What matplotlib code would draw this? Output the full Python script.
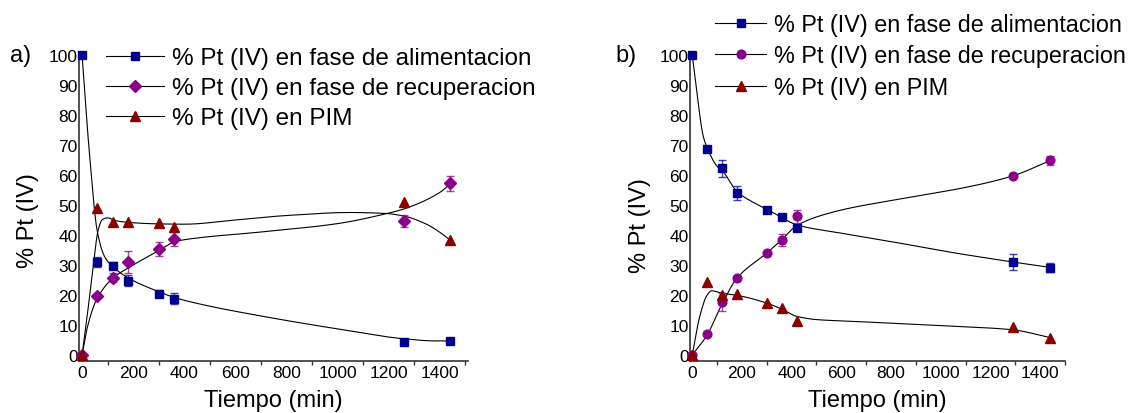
import numpy as np
import matplotlib
matplotlib.use('Agg')
import matplotlib.pyplot as plt
from matplotlib.lines import Line2D

plt.rcParams['font.family'] = ['Liberation Sans', 'DejaVu Sans']

# --- panel a: measured points ---
t_a = [0, 60, 120, 180, 300, 360, 1260, 1440]
alim_a = [100, 31, 29.8, 24.8, 20.5, 18.8, 4.5, 4.6]
alim_a_err = [0, 1.8, 1.2, 1.8, 1.3, 1.8, 0, 0]
recup_a = [0, 19.7, 25.8, 31, 35.3, 38.8, 44.7, 57.2]
recup_a_err = [0, 0.8, 1.5, 3.8, 2.3, 2.3, 2.0, 2.6]
pim_a = [0, 49, 44.4, 44.2, 43.9, 42.8, 51, 38.3]

# panel a: fitted trend lines (knots)
fit_alim_a_t = [0, 30, 60, 90, 120, 180, 300, 360, 450, 700, 1000, 1260, 1380, 1440]
fit_alim_a_y = [100, 66, 41, 32.5, 29.5, 25.7, 21.1, 19.2, 17.2, 13, 8.7, 5.4, 4.7, 4.7]
fit_recup_a_t = [0, 20, 57, 120, 180, 300, 364, 450, 700, 1000, 1185, 1260, 1400, 1440]
fit_recup_a_y = [0, 9, 18.5, 25.6, 29, 34.8, 37.8, 39, 41, 43.8, 47, 48.7, 54.2, 57]
fit_pim_a_t = [0, 20, 40, 64, 80, 100, 130, 180, 300, 400, 600, 800, 1050, 1185, 1260, 1350, 1400, 1440]
fit_pim_a_y = [0, 13, 27, 42, 45.2, 45.7, 44.8, 44.2, 43.7, 43.6, 45, 46.5, 47.5, 47.2, 46.3, 43.5, 40.9, 38.3]

# --- panel b: measured points ---
t_b = [0, 60, 120, 180, 300, 360, 420, 1290, 1440]
alim_b = [100, 68.8, 62.2, 54, 48.5, 46, 42.3, 31, 29.1]
alim_b_err = [0, 0, 2.7, 2.3, 0, 0, 0, 2.8, 1.5]
recup_b = [0, 6.9, 17.6, 25.6, 34.1, 38.3, 46.3, 59.8, 64.9]
recup_b_err = [0, 0, 3.0, 0, 0, 2.0, 2.2, 0, 1.5]
pim_b = [0, 24.3, 20, 20.2, 17.4, 15.6, 11.2, 9.3, 5.8]

# panel b: fitted trend lines (knots)
fit_alim_b_t = [0, 17, 44, 62, 98, 125, 180, 245, 300, 360, 420, 600, 800, 1000, 1290, 1440]
fit_alim_b_y = [100, 88.7, 73, 68.7, 63.1, 61, 54.5, 50.9, 48.6, 45.8, 43.4, 40.6, 37.8, 34.8, 31, 29.2]
fit_recup_b_t = [0, 60, 120, 180, 300, 360, 420, 565, 834, 1102, 1290, 1440]
fit_recup_b_y = [0, 6.7, 17, 25.6, 34, 38.4, 43.1, 47.6, 52, 55.9, 59.7, 64.8]
fit_pim_b_t = [0, 31, 60, 78, 120, 180, 300, 360, 420, 500, 650, 1000, 1290, 1440]
fit_pim_b_y = [0, 13.1, 20, 21.4, 20.6, 19.9, 17.3, 15.3, 12.9, 11.8, 11.2, 9.8, 8.4, 5.8]

labels = ['% Pt (IV) en fase de alimentacion',
          '% Pt (IV) en fase de recuperacion',
          '% Pt (IV) en PIM']

BLUE = '#00008f'
PURPLE = '#8b008b'
RED = '#8b0000'


def pchip(xk, yk, xs):
    # monotone cubic hermite (Fritsch-Carlson) for smooth trend lines
    xk = np.asarray(xk, float)
    yk = np.asarray(yk, float)
    h = np.diff(xk)
    d = np.diff(yk) / h
    m = np.zeros_like(yk)
    for k in range(1, len(xk) - 1):
        if d[k - 1] * d[k] > 0:
            w1 = 2 * h[k] + h[k - 1]
            w2 = h[k] + 2 * h[k - 1]
            m[k] = (w1 + w2) / (w1 / d[k - 1] + w2 / d[k])
    m[0] = d[0]
    m[-1] = d[-1]
    idx = np.clip(np.searchsorted(xk, xs) - 1, 0, len(h) - 1)
    s = (xs - xk[idx]) / h[idx]
    h00 = 2 * s**3 - 3 * s**2 + 1
    h10 = s**3 - 2 * s**2 + s
    h01 = -2 * s**3 + 3 * s**2
    h11 = s**3 - s**2
    return (h00 * yk[idx] + h10 * h[idx] * m[idx]
            + h01 * yk[idx + 1] + h11 * h[idx] * m[idx + 1])


def draw_series(ax, t, y, err, color, marker, ms, fit_t, fit_y):
    xs = np.linspace(fit_t[0], fit_t[-1], 600)
    ax.plot(xs, pchip(fit_t, fit_y, xs), color='black', lw=0.8, zorder=2)
    if err is not None:
        t_ = np.asarray(t)
        e_ = np.asarray(err)
        keep = e_ > 0
        ax.errorbar(t_[keep], np.asarray(y)[keep], yerr=e_[keep], fmt='none',
                    ecolor=color, alpha=0.75, elinewidth=1.0, capsize=3,
                    capthick=1.0, zorder=3)
    ax.plot(t, y, ls='none', marker=marker, ms=ms, color=color,
            mec=color, zorder=4, clip_on=False)


def style_axes(ax, xlim):
    ax.set_xlim(*xlim)
    ax.set_ylim(-2, 101)
    for side in ('top', 'right'):
        ax.spines[side].set_visible(False)
    for side in ('left', 'bottom'):
        ax.spines[side].set_color('#333333')
        ax.spines[side].set_linewidth(1.2)
    ax.set_xticks(np.arange(0, 1401, 200))
    ax.set_xticks(np.arange(100, 1501, 200), minor=True)
    ax.set_yticks(np.arange(0, 101, 10))
    ax.tick_params(axis='x', which='major', length=0, pad=3, labelsize=12.5)
    ax.tick_params(axis='x', which='minor', length=3, width=1, color='#333333')
    ax.tick_params(axis='y', which='both', length=0, pad=1, labelsize=12.5)
    ax.set_xlabel('Tiempo (min)', fontsize=17, va='center')
    ax.set_ylabel('% Pt (IV)', fontsize=17, va='center')


W, H = 1131, 414
fig = plt.figure(figsize=(W / 100, H / 100), dpi=100)

ax_a = fig.add_axes([79 / W, 52 / H, 389 / W, 309 / H])
ax_b = fig.add_axes([690 / W, 52 / H, 375 / W, 309 / H])

draw_series(ax_a, t_a, alim_a, alim_a_err, BLUE, 's', 5.8, fit_alim_a_t, fit_alim_a_y)
draw_series(ax_a, t_a, recup_a, recup_a_err, PURPLE, 'D', 6.2, fit_recup_a_t, fit_recup_a_y)
draw_series(ax_a, t_a, pim_a, None, RED, '^', 7, fit_pim_a_t, fit_pim_a_y)

draw_series(ax_b, t_b, alim_b, alim_b_err, BLUE, 's', 5.8, fit_alim_b_t, fit_alim_b_y)
draw_series(ax_b, t_b, recup_b, recup_b_err, PURPLE, 'o', 6.3, fit_recup_b_t, fit_recup_b_y)
draw_series(ax_b, t_b, pim_b, None, RED, '^', 7, fit_pim_b_t, fit_pim_b_y)

style_axes(ax_a, (-12, 1510))
style_axes(ax_b, (-9, 1497))

ax_a.xaxis.set_label_coords(0.5, -(400 - 361) / 309)
ax_b.xaxis.set_label_coords(0.5, -(400 - 361) / 309)
ax_a.yaxis.set_label_coords((28 - 79) / 389, (361 - 220) / 309)
ax_b.yaxis.set_label_coords((640 - 690) / 375, (361 - 225) / 309)


def add_legend(x_px, y_px, markers, fs, hl, spacing):
    handles = [Line2D([], [], color='black', lw=0.8, marker=mk, ms=ms,
                      mfc=c, mec=c)
               for mk, ms, c in markers]
    fig.legend(handles, labels, loc='upper left',
               bbox_to_anchor=(x_px / W, 1 - y_px / H),
               frameon=False, fontsize=fs, handlelength=hl,
               handletextpad=0.33, labelspacing=spacing, borderpad=0,
               borderaxespad=0, numpoints=1)


add_legend(106, 48, [('s', 5.8, BLUE), ('D', 6.2, PURPLE), ('^', 7, RED)],
           17.5, 2.4, 0.33)
add_legend(715, 14, [('s', 5.8, BLUE), ('o', 6.3, PURPLE), ('^', 7, RED)],
           16.8, 2.2, 0.36)

fig.text(10 / W, 1 - 56 / H, 'a)', fontsize=17, va='center', ha='left')
fig.text(615 / W, 1 - 56 / H, 'b)', fontsize=17, va='center', ha='left')

fig.savefig('out.png', dpi=100)
